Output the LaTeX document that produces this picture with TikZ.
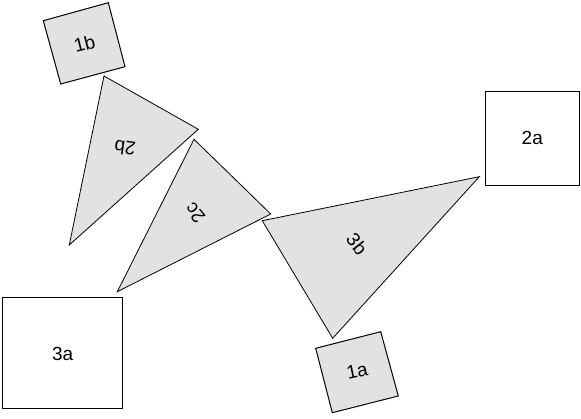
\documentclass[tikz,border=0pt]{standalone}
\usepackage{fontspec}
\setmainfont{Liberation Sans}
\definecolor{piecegray}{RGB}{226,226,226}
\tikzset{
  piece/.style={draw=black, fill=piecegray, line width=0.8pt, line join=miter},
  tile/.style={draw=black, fill=piecegray, line width=1pt},
  frame/.style={draw=black, fill=white, line width=1.4pt},
  lbl/.style={font=\fontsize{19}{21}\selectfont, inner sep=0pt}
}
\begin{document}
\begin{tikzpicture}[x=1pt,y=-1pt]
\useasboundingbox (0,0) rectangle (581,419);
% square 1b
\coordinate (b1) at (43.3,20.7);
\coordinate (b2) at (108.3,2.7);
\coordinate (b3) at (125,66.7);
\coordinate (b4) at (60.7,84);
\draw[tile] (b1) -- (b2) -- (b3) -- (b4) -- cycle;
\node[lbl, rotate=14] (l1b) at (84.5,43.5) {1b};
% triangle 2b
\coordinate (p1) at (104,76);
\coordinate (p2) at (198.3,129.3);
\coordinate (p3) at (69.3,245);
\draw[piece] (p1) -- (p2) -- (p3) -- cycle;
\node[lbl, rotate=172] (l2b) at (125,148) {2b};
% triangle 2c
\coordinate (q1) at (194,139.3);
\coordinate (q2) at (270.7,214);
\coordinate (q3) at (117.3,291.7);
\draw[piece] (q1) -- (q2) -- (q3) -- cycle;
\node[lbl, rotate=130] (l2c) at (195,213) {2c};
% triangle 3b
\coordinate (r1) at (262.3,220.7);
\coordinate (r2) at (479.3,176.7);
\coordinate (r3) at (332.7,338.3);
\draw[piece] (r1) -- (r2) -- (r3) -- cycle;
\node[lbl, rotate=-52] (l3b) at (357,244) {3b};
% square 2a
\draw[frame] (485.3,91.3) rectangle (579.3,185.3);
\node[lbl] (l2a) at (532.3,138.3) {2a};
% square 3a
\draw[frame] (2.7,297.3) rectangle (122.7,408.3);
\node[lbl] (l3a) at (62.7,354) {3a};
% square 1a
\coordinate (a1) at (315.7,348.3);
\coordinate (a2) at (380.7,331.7);
\coordinate (a3) at (398.3,396);
\coordinate (a4) at (332.3,412.7);
\draw[tile] (a1) -- (a2) -- (a3) -- (a4) -- cycle;
\node[lbl, rotate=12] (l1a) at (357,371) {1a};
\end{tikzpicture}
\end{document}
